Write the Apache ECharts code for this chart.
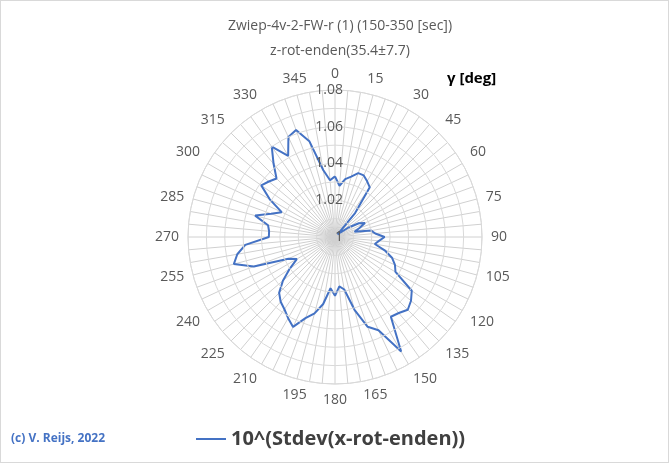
<!DOCTYPE html>
<html>
<head>
<meta charset="utf-8">
<script src="https://cdn.jsdelivr.net/npm/echarts@6/dist/echarts.min.js"></script>
<style>
html, body { margin: 0; padding: 0; background: #fff; }
#chart { width: 669px; height: 463px; box-sizing: border-box; border: 1px solid #d9d9d9; }
</style>
</head>
<body>
<div id="chart"></div>
<script>
// angles every 5 degrees
const angles = [];
for (let a = 0; a < 360; a += 5) angles.push(a);
const stdevValues = [
    1.033, 1.028, 1.032, 1.034, 1.037, 1.037, 1.035, 1.033, 1.017, 1.002,
    1.004, 1.009, 1.015, 1.018, 1.014, 1.011, 1.020, 1.022, 1.027, 1.024,
    1.022, 1.028, 1.033, 1.036, 1.038, 1.051, 1.054, 1.056, 1.054, 1.053,
    1.072, 1.056, 1.052, 1.041, 1.029, 1.027, 1.032, 1.028, 1.037, 1.043,
    1.047, 1.054, 1.051, 1.048, 1.046, 1.043, 1.037, 1.030, 1.024, 1.028,
    1.047, 1.057, 1.054, 1.049, 1.036, 1.036, 1.037, 1.045, 1.037, 1.032,
    1.041, 1.049, 1.047, 1.045, 1.052, 1.060, 1.051, 1.060, 1.062, 1.054,
    1.037, 1.031
];
const radiusTicks = [1, 1.02, 1.04, 1.06, 1.08];

const points = stdevValues.map((v, i) => [v, angles[i]]);
points.push(points[0]);

const chart = echarts.init(document.getElementById("chart"));
chart.setOption({
    animation: false,
    title: {
        text: "Zwiep-4v-2-FW-r (1) (150-350 [sec])\nz-rot-enden(35.4±7.7)",
        left: 334, top: 8, textAlign: "center",
        textStyle: { fontFamily: "Open Sans", fontSize: 14, fontWeight: "normal", color: "#595959", lineHeight: 25 }
    },
    graphic: [
        { type: "text", left: 446, top: 70, style: { text: "γ [deg]", font: "bold 15px 'Open Sans'", fill: "#000" } },
        { type: "text", left: 10, top: 432, style: { text: "(c) V. Reijs, 2022", font: "bold 12px 'Open Sans'", fill: "#4472c4" } }
    ],
    legend: {
        bottom: 8, left: 190, itemWidth: 30, itemGap: 6,
        textStyle: { fontFamily: "Open Sans", fontSize: 20, fontWeight: "bold", color: "#404040" },
        data: [{ name: "10^(Stdev(x-rot-enden))", icon: "path://M0,0H30V2H0Z" }]
    },
    polar: { center: [334, 236], radius: 147 },
    angleAxis: {
        type: "value", min: 0, max: 360, interval: 5, startAngle: 90, clockwise: true,
        axisLine: { lineStyle: { color: "#d9d9d9" } },
        axisTick: { show: false },
        axisLabel: {
            fontFamily: "Open Sans", fontSize: 14, color: "#595959", margin: 9,
            formatter: v => (v % 15 === 0 && v < 360) ? String(v) : ""
        },
        splitLine: { show: true, lineStyle: { color: "#d0d0d0", width: 1 } }
    },
    radiusAxis: {
        type: "value", min: 1, max: 1.08, interval: 0.01,
        axisLine: { show: false },
        axisTick: { show: false },
        axisLabel: {
            fontFamily: "Open Sans", fontSize: 14, color: "#595959", align: "right", margin: -8,
            formatter: v => {
                const r = Math.round(v * 100) / 100;
                return radiusTicks.includes(r) ? String(r) : "";
            }
        },
        splitLine: { show: true, lineStyle: { color: "#d9d9d9" } },
        z: 5
    },
    series: [{
        name: "10^(Stdev(x-rot-enden))",
        type: "line",
        coordinateSystem: "polar",
        data: points,
        showSymbol: false,
        lineStyle: { color: "#4472c4", width: 2 },
        itemStyle: { color: "#4472c4" },
        z: 3
    }]
});
</script>
</body>
</html>
